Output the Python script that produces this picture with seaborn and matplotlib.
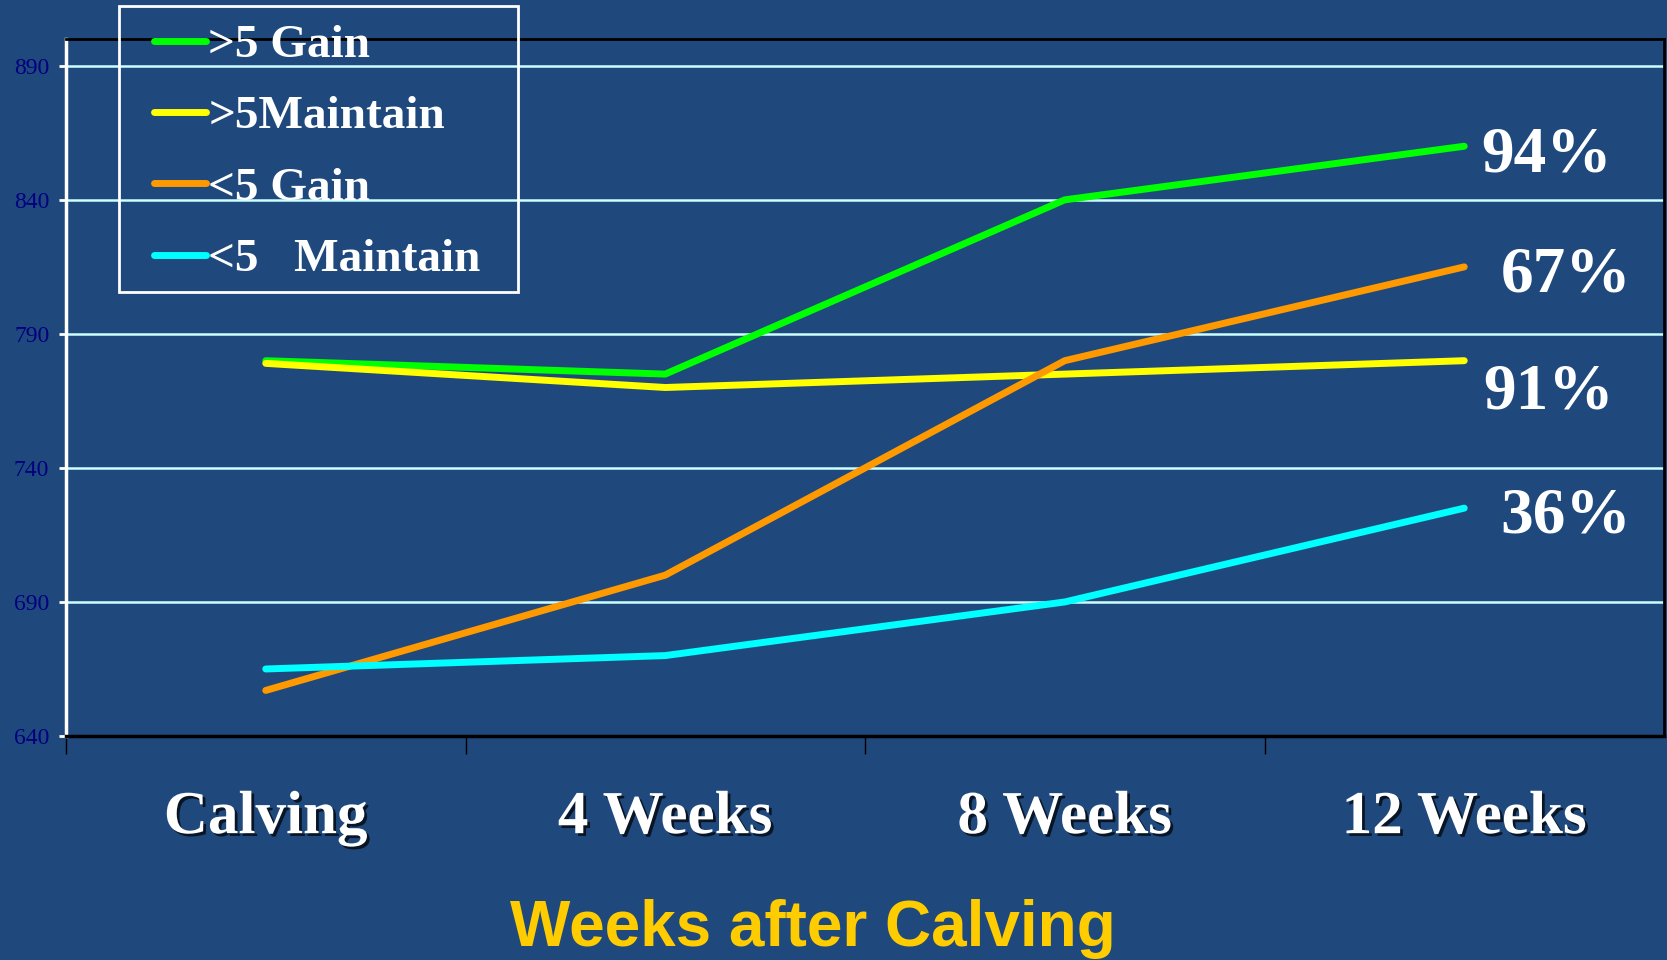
import matplotlib
matplotlib.use("Agg")
import matplotlib.pyplot as plt
import matplotlib.patheffects as pe
from matplotlib.patches import Rectangle
from matplotlib.ticker import FixedLocator
import pandas as pd
import seaborn as sns

# Body weight by body-condition group over the weeks after calving
stages = ["Calving", "4 Weeks", "8 Weeks", "12 Weeks"]
groups = [">5 Gain", ">5Maintain", "<5 Gain", "<5   Maintain"]
gain_hi = [780, 775, 840, 860]
maintain_hi = [779, 770, 775, 780]
gain_lo = [657, 700, 780, 815]
maintain_lo = [665, 670, 690, 725]
end_labels = ["94%", "91%", "67%", "36%"]
colors = ["#00FF00", "#FFFF00", "#FF9900", "#00FFFF"]
yticks = [640, 690, 740, 790, 840, 890]

series = [gain_hi, maintain_hi, gain_lo, maintain_lo]
df = pd.DataFrame({
    "stage": [s for _ in groups for s in stages],
    "weight": [v for vals in series for v in vals],
    "group": [g for g in groups for _ in stages],
})

BG = "#1F497D"
W, H = 1667, 960
sns.set_style("white")
plt.rcParams["font.family"] = ["Liberation Serif", "DejaVu Serif"]

fig = plt.figure(figsize=(W / 100, H / 100), dpi=100, facecolor=BG)
ax = fig.add_axes([66 / W, 1 - 736 / H, 1598 / W, 697 / H])
ax.set_facecolor(BG)

sns.lineplot(data=df, x="stage", y="weight", hue="group", hue_order=groups,
             palette=colors, sort=False, linewidth=5, ax=ax,
             solid_capstyle="round")

ax.set_xlim(-0.5, 3.5)
ax.set_ylim(640, 900)
ax.set_yticks(yticks)
ax.yaxis.grid(True, color="#CCFFFF", linewidth=1.8)
ax.set_axisbelow(True)

# spines
ax.spines["left"].set_color("white")
ax.spines["left"].set_linewidth(2.5)
for side in ("top", "right"):
    ax.spines[side].set_color("black")
    ax.spines[side].set_linewidth(2)
ax.spines["bottom"].set_color("black")
ax.spines["bottom"].set_linewidth(2.5)

# y ticks
ax.tick_params(axis="y", left=True, colors="white", direction="out",
               length=5, width=2, labelsize=17, labelcolor="#000080", pad=7)

# x category labels with boundary tick marks
ax.xaxis.set_minor_locator(FixedLocator([-0.5, 0.5, 1.5, 2.5]))
ax.tick_params(axis="x", which="both", bottom=True)
ax.tick_params(axis="x", which="major", length=0, pad=39)
ax.tick_params(axis="x", which="minor", length=13, width=1, color="black",
               direction="out")
for lab in ax.get_xticklabels():
    lab.set_fontsize(44)
    lab.set_fontweight("bold")
    lab.set_color("white")
    lab.set_path_effects([pe.withSimplePatchShadow(offset=(2, -2),
                                                   shadow_rgbFace="black",
                                                   alpha=0.7)])

ax.set_xlabel("")
ax.set_ylabel("")
fig.text(813 / W, 1 - 946 / H, "Weeks after Calving", ha="center",
         va="baseline", fontsize=46, fontweight="bold", color="#FFCC00",
         family=["Liberation Sans", "DejaVu Sans"])

# percentage labels at the end of each line
offsets = [(12, -7), (14, -23), (26, -6), (26, -6)]
for lab, vals, off in zip(end_labels, series, offsets):
    ax.annotate(lab, xy=(3, vals[-1]), xytext=off,
                textcoords="offset points", ha="left", va="center",
                fontsize=47, fontweight="bold", color="white")

# legend (frame drawn separately as a box)
handles, labels = ax.get_legend_handles_labels()
leg = ax.legend(handles, labels, loc="upper left",
                bbox_to_anchor=(154 / W, 1 - 24 / H),
                bbox_transform=fig.transFigure, borderaxespad=0,
                frameon=False, handlelength=1.1, handletextpad=0.05,
                labelspacing=0.6, borderpad=0,
                prop={"family": "Liberation Serif", "weight": "bold",
                      "size": 34})
for t in leg.get_texts():
    t.set_color("white")
for ln in leg.get_lines():
    ln.set_linewidth(5)
    ln.set_solid_capstyle("round")
fig.add_artist(Rectangle((119 / W, 1 - 292 / H), 399 / W, 286 / H,
                         transform=fig.transFigure, fill=False,
                         edgecolor="white", linewidth=2, zorder=5))

fig.savefig("out.png", dpi=100, facecolor=BG)
